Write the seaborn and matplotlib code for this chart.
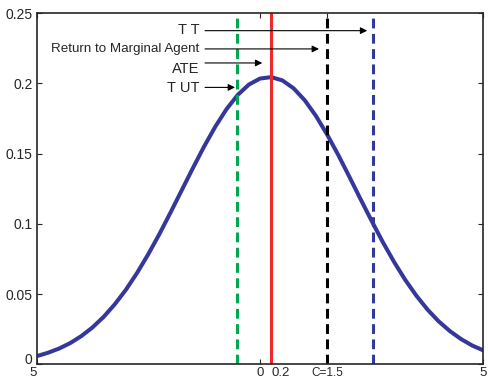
import numpy as np
import pandas as pd
import matplotlib
matplotlib.use("Agg")
import matplotlib.pyplot as plt
import seaborn as sns

# --- data ---
x_vals = [-5, -4.75, -4.5, -4.25, -4, -3.75, -3.5, -3.25, -3, -2.75, -2.5,
          -2.25, -2, -1.75, -1.5, -1.25, -1, -0.75, -0.5, -0.25, 0, 0.25,
          0.5, 0.75, 1, 1.25, 1.5, 1.75, 2, 2.25, 2.5, 2.75, 3, 3.25, 3.5,
          3.75, 4, 4.25, 4.5, 4.75, 5]
density = [0.0058, 0.0082, 0.0112, 0.0151, 0.0201, 0.0263, 0.0338, 0.0428,
           0.0532, 0.0652, 0.0785, 0.0929, 0.1083, 0.1241, 0.1399, 0.1552,
           0.1693, 0.1817, 0.1918, 0.1992, 0.2035, 0.2045, 0.2022, 0.1966,
           0.1881, 0.1770, 0.1638, 0.1492, 0.1336, 0.1177, 0.1021, 0.0870,
           0.0730, 0.0602, 0.0489, 0.0390, 0.0306, 0.0237, 0.0180, 0.0134,
           0.0099]

vline_x = [-0.52, 0.25, 1.5, 2.52]
vline_colors = ["#00a650", "#ee2b2b", "#000000", "#34389a"]
vline_dashed = [True, False, True, True]

labels = ["T T", "Return to Marginal Agent", "ATE", "T UT"]
label_y = [0.2378, 0.2244, 0.2105, 0.1968]
arrow_y = [0.2376, 0.2246, 0.2146, 0.1972]
arrow_end = [2.40, 1.32, 0.05, -0.56]
label_size = [10.5, 9.6, 10.5, 10.5]

xticks = [-5, 0, 0.25, 1.5, 5]
xtick_labels = ["5", "0", "0.2", "C=1.5", "5"]
yticks = [0, 0.05, 0.1, 0.15, 0.2, 0.25]
ytick_labels = ["0", "0.05", "0.1", "0.15", "0.2", "0.25"]

df = pd.DataFrame({"x": x_vals, "y": density})

sns.set_style("ticks")
plt.rcParams["font.family"] = ["Liberation Sans", "DejaVu Sans"]

fig = plt.figure(figsize=(4.89, 3.82), dpi=100)
ax = fig.add_axes([0.075, 0.0463, 0.9134, 0.919])

sns.lineplot(data=df, x="x", y="y", ax=ax, color="#34389a", linewidth=2.9)

for xv, c, d in zip(vline_x, vline_colors, vline_dashed):
    if d:
        ax.axvline(xv, color=c, linewidth=2.2, linestyle=(0, (3.2, 1.8)))
    else:
        ax.axvline(xv, color=c, linewidth=2.2)

for t, ty, ay, ae, fs in zip(labels, label_y, arrow_y, arrow_end, label_size):
    ax.annotate("", xy=(ae, ay), xytext=(-1.23, ay),
                arrowprops=dict(arrowstyle="-|>", color="black", lw=0.8,
                                mutation_scale=10, shrinkA=0, shrinkB=0))
    ax.text(-1.36, ty, t, ha="right", va="center", fontsize=fs)

ax.set_xlim(-5, 5)
ax.set_ylim(0, 0.25)
ax.set_xticks(xticks)
ax.set_xticklabels(xtick_labels, fontsize=9.5)
ax.set_yticks(yticks)
ax.set_yticklabels(ytick_labels, fontsize=10)
xl = ax.get_xticklabels()
xl[0].set_ha("right")
xl[2].set_ha("left")
xl[3].set_fontsize(8.5)
# sit the y "0" on the axis line so it clears the x "5" below it
ax.get_yticklabels()[0].set_va("baseline")
ax.set_xlabel("")
ax.set_ylabel("")
ax.tick_params(direction="in", length=3.5, width=0.8, top=True, right=True)
ax.tick_params(axis="y", pad=3)
ax.tick_params(axis="x", pad=2)
for s in ax.spines.values():
    s.set_linewidth(1.2)
    s.set_visible(True)

fig.savefig("out.png", dpi=100)
